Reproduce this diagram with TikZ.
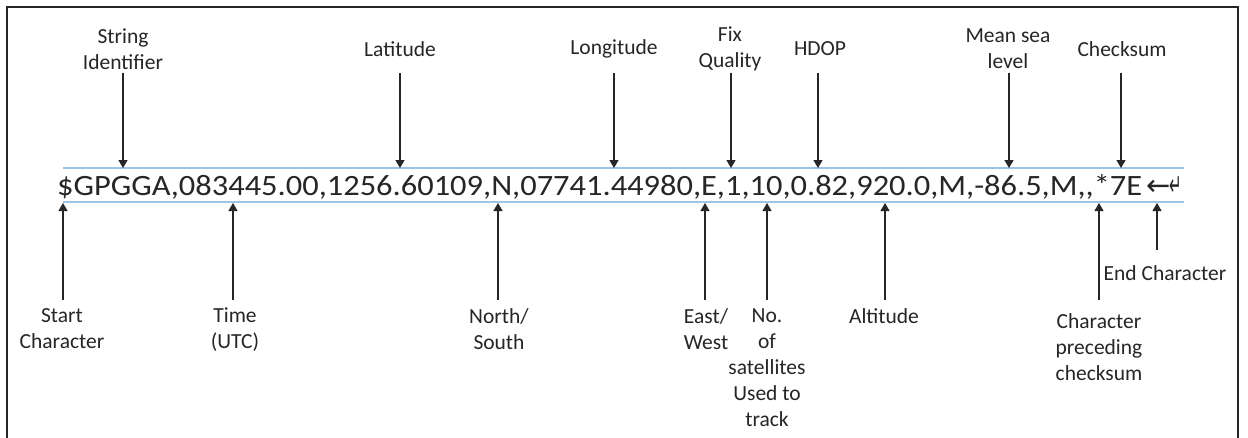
\documentclass[tikz,border=0pt]{standalone}
\usepackage{fontspec}
\setmainfont{Carlito}
\newfontfamily\symfont{DejaVu Sans}
\usetikzlibrary{arrows.meta}
\definecolor{rulecol}{HTML}{9DC3E6}
\definecolor{ink}{HTML}{262626}
\begin{document}
\begin{tikzpicture}[x=1pt,y=-1pt,
  lab/.style={font=\fontsize{21.5}{26}\selectfont, align=center, inner sep=0pt, text=ink},
  toplab/.style={lab, anchor=center},
  botlab/.style={lab, anchor=north},
  arr/.style={-{Triangle[length=8pt,width=9pt]}, line width=1.2pt, draw=ink},
  rule/.style={draw=rulecol, line width=1.5pt}]
\useasboundingbox (0,0) rectangle (1248,437);
\fill[white] (0,0) rectangle (1248,437);
% frame
\coordinate (fBL) at (7,440);
\coordinate (fTL) at (7,7);
\coordinate (fTR) at (1238,7);
\coordinate (fBR) at (1238,440);
\draw[line width=1.5pt, draw=ink] (fBL) -- (fTL) -- (fTR) -- (fBR);
% guide lines
\coordinate (uL) at (63,168); \coordinate (uR) at (1184,168);
\coordinate (lL) at (63,202); \coordinate (lR) at (1184,202);
\draw[rule] (uL) -- (uR);
\draw[rule] (lL) -- (lR);
% sentence
\node[anchor=base west, inner sep=0pt, text=ink, font=\fontsize{29.5}{32}\selectfont] (str) at (57,195)
  {\scalebox{1.1}[1]{\$GPGGA,083445.00,1256.60109,N,07741.44980,E,1,10,0.82,920.0,M,-86.5,M,{},*7E}};
\node[anchor=base west, inner sep=0pt, text=ink, font=\symfont\fontsize{29}{30}\selectfont] (larr) at (1146,195) {←};
\node[anchor=base west, inner sep=0pt, text=ink, font=\symfont\fontsize{30}{30}\selectfont] (ret) at (1169,195) {\scalebox{0.5}[1]{↵}};
% top labels
\node[toplab] (sid) at (123,49) {String\\Identifier};
\node[toplab] (lat) at (400,49) {Latitude};
\node[toplab] (lon) at (614,49) {Longitude};
\node[toplab] (fix) at (730,49) {Fix\\Quality};
\node[toplab] (hdop) at (820,49) {HDOP};
\node[toplab] (msl) at (1008,49) {Mean sea\\level};
\node[toplab] (chk) at (1122,49) {Checksum};
\foreach \n/\x in {sid/123, lat/400, lon/614, fix/731, hdop/818, msl/1009, chk/1121}{
  \coordinate (\n-t) at (\x,73);
  \coordinate (\n-h) at (\x,168);
  \draw[arr] (\n-t) -- (\n-h);
}
% bottom labels
\node[botlab] (start) at (62,308) {Start\\Character};
\node[botlab] (time) at (235,308) {Time\\(UTC)};
\node[botlab] (ns) at (499,308) {North/\\South};
\node[botlab] (ew) at (706,308) {East/\\West};
\node[botlab] (sat) at (767,308) {No.\\of\\satellites\\Used to\\track};
\node[botlab] (alt) at (884,308) {Altitude};
\node[botlab] (cpc) at (1099,313) {Character\\preceding\\checksum};
\node[botlab] (endc) at (1165,265) {End Character};
\foreach \n/\x/\y in {start/63/300, time/233/300, ns/498/300, ew/705/300, sat/767/300, alt/885/300, cpc/1099/300, endc/1157/250}{
  \coordinate (\n-t) at (\x,\y);
  \coordinate (\n-h) at (\x,203);
  \draw[arr] (\n-t) -- (\n-h);
}
\end{tikzpicture}
\end{document}
